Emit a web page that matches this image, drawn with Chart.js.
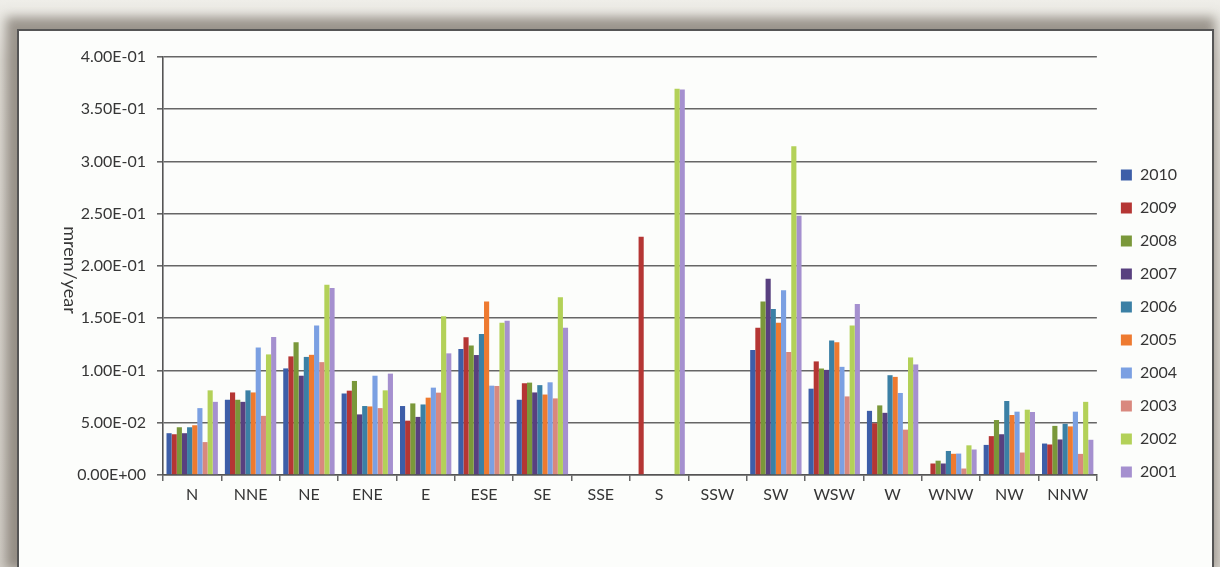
<!DOCTYPE html>
<html>
<head>
<meta charset="utf-8">
<title>mrem/year by sector</title>
<script src="https://cdn.jsdelivr.net/npm/chart.js@4/dist/chart.umd.min.js"></script>
<style>
  html, body { margin: 0; padding: 0; }
  body {
    width: 1220px; height: 567px; overflow: hidden; position: relative;
    background: linear-gradient(180deg, #efeee9 0px, #dedbd4 60px, #d2cec7 567px);
  }
  #frame {
    position: absolute; left: 17px; top: 29px; width: 1197px; height: 540px;
    box-sizing: border-box; border: 2px solid #555;
    background: #fcfdfb;
    box-shadow: -5px -6px 10px 6px rgba(105, 96, 86, 0.6);
  }
  #chart { position: absolute; left: 0; top: 0; }
</style>
</head>
<body>
<div id="frame"><canvas id="chart" width="1193" height="534"></canvas></div>
<script>
// Wind sectors
const sectors = ['N', 'NNE', 'NE', 'ENE', 'E', 'ESE', 'SE', 'SSE', 'S', 'SSW', 'SW', 'WSW', 'W', 'WNW', 'NW', 'NNW'];

// Annual dose per sector (mrem/year); null where no value was reported
const y2010 = [0.040, 0.072, 0.102, 0.078, 0.066, 0.1206, 0.072, null, null, null, 0.1196, 0.0826, 0.0614, null, 0.0288, 0.0301];
const y2009 = [0.039, 0.079, 0.1135, 0.0807, 0.052, 0.1318, 0.0878, null, 0.228, null, 0.1408, 0.1087, 0.0495, 0.011, 0.0372, 0.0292];
const y2008 = [0.0457, 0.072, 0.127, 0.090, 0.0685, 0.124, 0.0884, null, null, null, 0.166, 0.1019, 0.0666, 0.0137, 0.0526, 0.047];
const y2007 = [0.040, 0.070, 0.095, 0.058, 0.0556, 0.1148, 0.079, null, null, null, 0.1878, 0.1006, 0.0595, 0.011, 0.039, 0.034];
const y2006 = [0.0457, 0.081, 0.113, 0.066, 0.0675, 0.135, 0.086, null, null, null, 0.1588, 0.1286, 0.0955, 0.023, 0.0708, 0.049];
const y2005 = [0.0476, 0.079, 0.115, 0.0656, 0.074, 0.166, 0.077, null, null, null, 0.1457, 0.127, 0.0939, 0.0203, 0.0574, 0.0465];
const y2004 = [0.064, 0.122, 0.143, 0.095, 0.0836, 0.0855, 0.0887, null, null, null, 0.1768, 0.1035, 0.0785, 0.0205, 0.0606, 0.0606];
const y2003 = [0.0315, 0.0566, 0.108, 0.064, 0.0788, 0.0852, 0.0733, null, null, null, 0.1177, 0.0752, 0.0434, 0.0062, 0.0215, 0.0202];
const y2002 = [0.081, 0.1154, 0.182, 0.081, 0.1518, 0.1457, 0.170, null, 0.3696, null, 0.3145, 0.143, 0.1125, 0.0284, 0.0625, 0.070];
const y2001 = [0.070, 0.132, 0.179, 0.097, 0.1164, 0.1476, 0.1408, null, 0.369, null, 0.248, 0.1637, 0.1058, 0.0244, 0.0603, 0.0337];

const years = ['2010', '2009', '2008', '2007', '2006', '2005', '2004', '2003', '2002', '2001'];
const seriesValues = [y2010, y2009, y2008, y2007, y2006, y2005, y2004, y2003, y2002, y2001];
const seriesColors = ['#3d5ea8', '#b53634', '#7a983a', '#58407f', '#3b80a5', '#ee7a30', '#7ba0e2', '#d9887e', '#b3d158', '#a590cf'];

// y-axis tick values, shown in spreadsheet-style scientific notation
const yTicks = [0, 0.05, 0.10, 0.15, 0.20, 0.25, 0.30, 0.35, 0.40];
const yAxisTitle = 'mrem/year';

function sci(v) {
  if (Math.abs(v) < 1e-12) return '0.00E+00';
  let e = Math.floor(Math.log10(Math.abs(v)) + 1e-9);
  let m = v / Math.pow(10, e);
  if (Math.round(m * 100) >= 1000) { m /= 10; e += 1; }
  const sign = e < 0 ? '-' : '+';
  const ex = String(Math.abs(e)).padStart(2, '0');
  return m.toFixed(2) + 'E' + sign + ex;
}

const textColor = '#363636';
const gridColor = '#666';
const FONT = 'Lato';

// Places the legend column beside the plot area
const legendPlacement = {
  id: 'legendPlacement',
  afterLayout(chart) {
    const lg = chart.legend;
    const w = lg.right - lg.left;
    lg.left = chart.chartArea.right + 7;
    lg.right = lg.left + w;
    const h = lg.bottom - lg.top;
    lg.top = chart.chartArea.top + 93;
    lg.bottom = lg.top + h;
  }
};

// Axis title written top-to-bottom, left of the tick labels
const yTitle = {
  id: 'yTitle',
  afterDraw(chart) {
    const { ctx, chartArea } = chart;
    ctx.save();
    ctx.translate(51, (chartArea.top + chartArea.bottom) / 2 + 4);
    ctx.rotate(Math.PI / 2);
    ctx.fillStyle = textColor;
    ctx.font = '18px ' + FONT;
    ctx.textAlign = 'center';
    ctx.textBaseline = 'middle';
    ctx.fillText(yAxisTitle, 0, 0);
    ctx.restore();
  }
};

new Chart(document.getElementById('chart'), {
  type: 'bar',
  data: {
    labels: sectors,
    datasets: years.map((yr, i) => ({
      label: yr,
      data: seriesValues[i],
      backgroundColor: seriesColors[i],
      borderWidth: 0,
      categoryPercentage: 0.88,
      barPercentage: 1.0
    }))
  },
  options: {
    responsive: false,
    devicePixelRatio: 1,
    animation: false,
    layout: { padding: { left: 0, top: 26, right: 32, bottom: 0 } },
    plugins: {
      tooltip: { enabled: false },
      legend: {
        position: 'right',
        align: 'start',
        labels: {
          boxWidth: 11,
          boxHeight: 11,
          padding: 17,
          color: textColor,
          font: { family: FONT, size: 16 }
        }
      }
    },
    scales: {
      x: {
        offset: true,
        grid: {
          offset: true,
          drawOnChartArea: false,
          drawTicks: true,
          tickLength: 6,
          color: gridColor,
          lineWidth: 1.5
        },
        border: { display: true, color: '#555', width: 1.6 },
        ticks: {
          color: textColor,
          font: { family: FONT, size: 16 },
          padding: 4,
          maxRotation: 0,
          autoSkip: false
        },
        afterFit(scale) { scale.height = 90; }
      },
      y: {
        min: 0,
        max: 0.4,
        afterBuildTicks(scale) { scale.ticks = yTicks.map(v => ({ value: v })); },
        grid: {
          color: gridColor,
          lineWidth: 1.6,
          drawTicks: true,
          tickLength: 6
        },
        border: { display: true, color: '#555', width: 1.6 },
        ticks: {
          color: textColor,
          font: { family: FONT, size: 16 },
          padding: 11,
          callback: (v) => sci(v)
        },
        title: { display: false },
        afterFit(scale) { scale.width = 144; }
      }
    }
  },
  plugins: [legendPlacement, yTitle]
});
</script>
</body>
</html>
